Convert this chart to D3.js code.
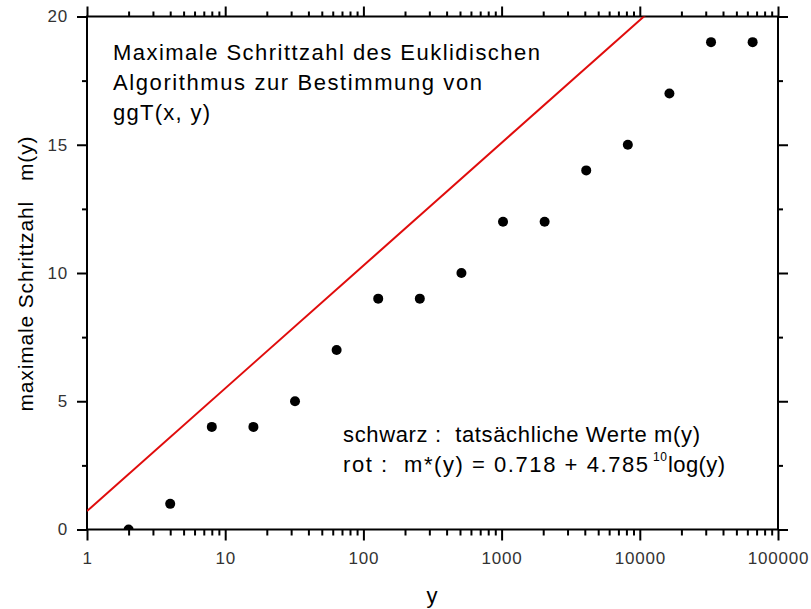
<!DOCTYPE html>
<html><head><meta charset="utf-8">
<script src="https://cdn.jsdelivr.net/npm/d3@7"></script>
<style>body{margin:0;background:#fff}svg{display:block}text{white-space:pre}</style>
</head><body>
<svg id="c" width="811" height="609"></svg>
<script>
// ---- data ----
const xValues = [2, 4, 8, 16, 32, 64, 128, 256, 512, 1024, 2048, 4096, 8192, 16384, 32768, 65536];
const mValues = [0, 1, 4, 4, 5, 7, 9, 9, 10, 12, 12, 14, 15, 17, 19, 19];
const xMajorTicks = [1, 10, 100, 1000, 10000, 100000];
const xTickLabels = ["1", "10", "100", "1000", "10000", "100000"];
const yMajorTicks = [0, 5, 10, 15, 20];
const yTickLabels = ["0", "5", "10", "15", "20"];
const yMinorTicks = [2.5, 7.5, 12.5, 17.5];
const fitIntercept = 0.718, fitSlope = 4.785;
const titleLines = ["Maximale Schrittzahl des Euklidischen", "Algorithmus zur Bestimmung von", "ggT(x, y)"];
const legendLine1 = "schwarz :  tatsächliche Werte m(y)";
const legendLine2a = "rot :  m*(y) = 0.718 + 4.785";
const legendSup = "10";
const legendLine2b = "log(y)";
const xAxisLabel = "y";
const yAxisLabel = "maximale Schrittzahl   m(y)";

// ---- layout ----
const L = 87, R = 778, T = 16.5, B = 529.5;
const FONT = "'Liberation Sans', Arial, sans-serif";
const svg = d3.select("#c");
const x = d3.scaleLog().domain([1, 100000]).range([L, R]);
const y = d3.scaleLinear().domain([0, 20]).range([B, T]);

const xMinor = [];
xMajorTicks.slice(0, -1).forEach(d => { for (let k = 2; k <= 9; k++) xMinor.push(d * k); });

svg.append("defs").append("clipPath").attr("id", "clip")
  .append("rect").attr("x", L).attr("y", T).attr("width", R - L).attr("height", B - T);

function styleAxis(g) {
  g.select(".domain").remove();
  g.selectAll(".tick line").attr("stroke", "#000").attr("stroke-width", 2);
  g.selectAll(".tick text").attr("fill", "#333").style("font-family", FONT).style("font-size", "17px").attr("letter-spacing", "0.8px");
}

// bottom
svg.append("g").attr("transform", `translate(0,${B})`)
  .call(d3.axisBottom(x).tickValues(xMinor).tickSize(6).tickFormat("")).call(styleAxis);
svg.append("g").attr("transform", `translate(0,${B})`)
  .call(d3.axisBottom(x).tickValues(xMajorTicks).tickSize(11).tickPadding(11)
    .tickFormat((d, i) => xTickLabels[i])).call(styleAxis);
// top
svg.append("g").attr("transform", `translate(0,${T})`)
  .call(d3.axisTop(x).tickValues(xMinor).tickSize(5).tickFormat("")).call(styleAxis);
svg.append("g").attr("transform", `translate(0,${T})`)
  .call(d3.axisTop(x).tickValues(xMajorTicks).tickSize(10).tickFormat("")).call(styleAxis);
// left
svg.append("g").attr("transform", `translate(${L},0)`)
  .call(d3.axisLeft(y).tickValues(yMinorTicks).tickSize(5).tickFormat("")).call(styleAxis);
svg.append("g").attr("transform", `translate(${L},0)`)
  .call(d3.axisLeft(y).tickValues(yMajorTicks).tickSize(10).tickPadding(9)
    .tickFormat((d, i) => yTickLabels[i])).call(styleAxis);
// right
svg.append("g").attr("transform", `translate(${R},0)`)
  .call(d3.axisRight(y).tickValues(yMinorTicks).tickSize(5).tickFormat("")).call(styleAxis);
svg.append("g").attr("transform", `translate(${R},0)`)
  .call(d3.axisRight(y).tickValues(yMajorTicks).tickSize(10).tickFormat("")).call(styleAxis);

// frame
svg.append("rect").attr("x", L).attr("y", T).attr("width", R - L).attr("height", B - T)
  .attr("fill", "none").attr("stroke", "#000").attr("stroke-width", 2);

// fit line
const xd = x.domain();
svg.append("path").attr("clip-path", "url(#clip)")
  .datum(xd.map(v => [v, fitIntercept + fitSlope * Math.log10(v)]))
  .attr("d", d3.line().x(d => x(d[0])).y(d => y(d[1])))
  .attr("fill", "none").attr("stroke", "#e00c0c").attr("stroke-width", 2);

// points
svg.append("g").attr("clip-path", "url(#clip)").selectAll("circle")
  .data(xValues.map((v, i) => [v, mValues[i]]))
  .join("circle").attr("cx", d => x(d[0])).attr("cy", d => y(d[1])).attr("r", 5).attr("fill", "#000");

// title
svg.append("g").selectAll("text").data(titleLines).join("text")
  .attr("x", 113).attr("y", (d, i) => 60 + 30 * i)
  .attr("textLength", (d, i) => [427, 369, 97][i]).attr("lengthAdjust", "spacing")
  .style("font-family", FONT).style("font-size", "22px").attr("fill", "#000").text(d => d);

// legend
function txt(s, xx, yy, size, len) {
  const t = svg.append("text").attr("x", xx).attr("y", yy)
    .style("font-family", FONT).style("font-size", size + "px").attr("fill", "#000").text(s);
  if (len) t.attr("textLength", len).attr("lengthAdjust", "spacing");
  return t;
}
txt(legendLine1, 343, 442, 22, 357);
txt(legendLine2a, 343, 472, 22, 305);
txt(legendSup, 653, 461, 12, 14);
txt(legendLine2b, 668, 472, 22, 57);

// axis labels
txt(xAxisLabel, 432, 603, 22).attr("text-anchor", "middle");
svg.append("text").attr("transform", `translate(33,274) rotate(-90)`)
  .attr("text-anchor", "middle").attr("textLength", 275).attr("lengthAdjust", "spacing")
  .style("font-family", FONT).style("font-size", "21px").attr("fill", "#000").text(yAxisLabel);
</script>
</body></html>
